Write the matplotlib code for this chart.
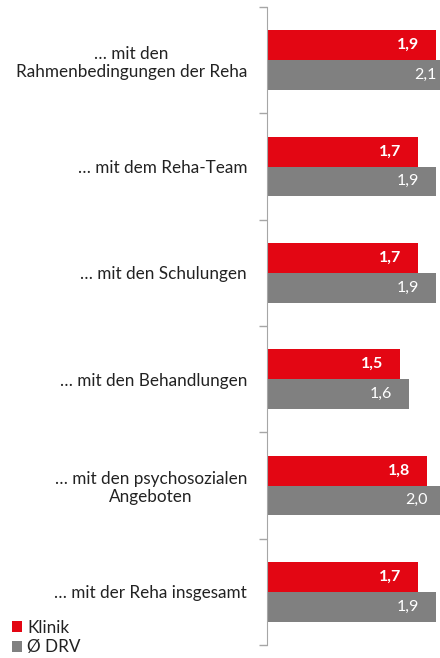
import matplotlib
matplotlib.use("Agg")
import matplotlib.pyplot as plt
import numpy as np

plt.rcParams['font.family'] = ['Lato', 'DejaVu Sans']

categories = ["… mit den\nRahmenbedingungen der Reha",
              "… mit dem Reha-Team",
              "… mit den Schulungen",
              "… mit den Behandlungen",
              "… mit den psychosozialen\nAngeboten",
              "… mit der Reha insgesamt"]
klinik = [1.9, 1.7, 1.7, 1.5, 1.8, 1.7]
drv = [2.1, 1.9, 1.9, 1.6, 2.0, 1.9]

red = "#E30613"
grey = "#808080"
fs = 12.3

fig = plt.figure(figsize=(4.4, 6.58), dpi=100)
ax = fig.add_axes([266.5 / 440, 1 - 645 / 658, 1 - 266.5 / 440, (645 - 7) / 658])

y = np.arange(len(categories))
h = 0.28
ax.barh(y - h / 2, klinik, height=h, color=red, label="Klinik")
ax.barh(y + h / 2, drv, height=h, color=grey, label="Ø DRV")

xmax = 1.943
off = 0.19
for i in range(len(categories)):
    ax.text(klinik[i] - off, y[i] - h / 2, f"{klinik[i]:.1f}".replace(".", ","),
            color="white", fontweight="bold", fontsize=11.5, ha="right", va="center")
    ax.text(drv[i] - off, y[i] + h / 2, f"{drv[i]:.1f}".replace(".", ","),
            color="white", fontsize=11.5, ha="right", va="center", clip_on=True)

ax.set_xlim(0, xmax)
ax.set_ylim(len(categories) - 0.5, -0.5)
ax.set_xticks([])
ax.set_yticks(y)
ax.set_yticklabels(categories, fontsize=fs, multialignment="center", linespacing=1.15)
ax.tick_params(axis="y", which="major", length=0, pad=14, labelcolor="#222222")
ax.set_yticks(np.arange(-0.5, len(categories), 1), minor=True)
ax.tick_params(axis="y", which="minor", length=6, color="#A6A6A6", width=1)
for s in ["top", "right", "bottom"]:
    ax.spines[s].set_visible(False)
ax.spines["left"].set_color("#A6A6A6")

fig.legend(loc="lower left", bbox_to_anchor=(12 / 440, 0.004), frameon=False, fontsize=fs,
           handlelength=0.6, handleheight=0.6, handletextpad=0.3, labelspacing=0.22,
           borderpad=0, borderaxespad=0, labelcolor="#222222")

fig.savefig("out.png", dpi=100)
